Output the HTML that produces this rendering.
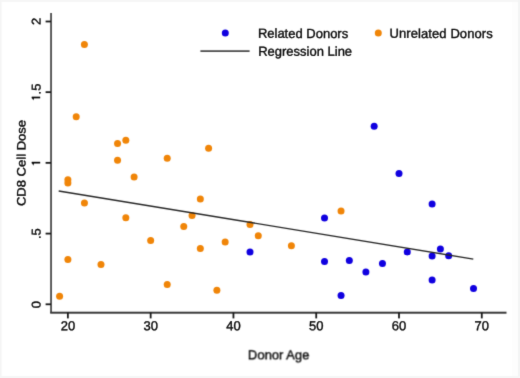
<!DOCTYPE html>
<html><head><meta charset="utf-8"><style>
html,body{margin:0;padding:0;background:#fff;}
body{width:520px;height:378px;overflow:hidden;}
svg{display:block;will-change:transform;}
.t{font-family:"Liberation Sans",sans-serif;font-size:13px;fill:#0d0d0d;stroke:#0d0d0d;stroke-width:0.4px;stroke-linejoin:round;}
</style></head><body>
<svg width="520" height="378" viewBox="0 0 520 378" xmlns="http://www.w3.org/2000/svg">
<title>CD8 Cell Dose vs Donor Age: Related Donors, Unrelated Donors, Regression Line</title>
<defs><filter id="bl" x="0" y="0" width="520" height="378" filterUnits="userSpaceOnUse" color-interpolation-filters="sRGB"><feConvolveMatrix order="3" kernelMatrix="0.0144 0.0912 0.0144 0.0912 0.5776 0.0912 0.0144 0.0912 0.0144" edgeMode="duplicate" preserveAlpha="true"/></filter><filter id="blt" x="0" y="0" width="520" height="378" filterUnits="userSpaceOnUse" color-interpolation-filters="sRGB"><feConvolveMatrix order="3" kernelMatrix="0.0100 0.0800 0.0100 0.0800 0.6400 0.0800 0.0100 0.0800 0.0100" edgeMode="none" preserveAlpha="false"/></filter></defs>
<g filter="url(#bl)">
<rect x="0" y="0" width="520" height="378" fill="#fdfdfd"/>
<rect x="0" y="0" width="520" height="2" fill="#f6f6f6"/>
<rect x="0" y="0" width="1.5" height="378" fill="#f5f5f5"/>
<rect x="518" y="0" width="2" height="378" fill="#f3f4f4"/>
<rect x="0" y="376" width="520" height="2" fill="#f5f6f6"/>
<rect x="2" y="2" width="510" height="374" fill="#ffffff"/>
<rect x="50.15" y="13" width="1.8" height="300" fill="#4c4c4c"/>
<rect x="50.2" y="311.70" width="456.3" height="2.0" fill="#383838"/>
<rect x="66.98" y="312.5" width="1.8" height="5.9" fill="#1a1a1a"/>
<rect x="149.76" y="312.5" width="1.8" height="5.9" fill="#1a1a1a"/>
<rect x="232.54" y="312.5" width="1.8" height="5.9" fill="#1a1a1a"/>
<rect x="315.32" y="312.5" width="1.8" height="5.9" fill="#1a1a1a"/>
<rect x="398.10" y="312.5" width="1.8" height="5.9" fill="#1a1a1a"/>
<rect x="480.88" y="312.5" width="1.8" height="5.9" fill="#1a1a1a"/>
<rect x="45.6" y="303.40" width="5.4" height="1.8" fill="#1a1a1a"/>
<rect x="45.6" y="232.70" width="5.4" height="1.8" fill="#1a1a1a"/>
<rect x="45.6" y="161.95" width="5.4" height="1.8" fill="#1a1a1a"/>
<rect x="45.6" y="91.25" width="5.4" height="1.8" fill="#1a1a1a"/>
<rect x="45.6" y="20.60" width="5.4" height="1.8" fill="#1a1a1a"/>

<circle cx="59.60" cy="296.30" r="3.5" fill="#f08508"/>
<circle cx="67.88" cy="259.40" r="3.5" fill="#f08508"/>
<circle cx="67.88" cy="179.80" r="3.5" fill="#f08508"/>
<circle cx="67.88" cy="182.90" r="3.5" fill="#f08508"/>
<circle cx="76.20" cy="116.70" r="3.5" fill="#f08508"/>
<circle cx="84.40" cy="44.60" r="3.5" fill="#f08508"/>
<circle cx="84.44" cy="203.00" r="3.5" fill="#f08508"/>
<circle cx="100.99" cy="264.60" r="3.5" fill="#f08508"/>
<circle cx="117.55" cy="160.20" r="3.5" fill="#f08508"/>
<circle cx="117.55" cy="143.50" r="3.5" fill="#f08508"/>
<circle cx="125.83" cy="140.30" r="3.5" fill="#f08508"/>
<circle cx="125.83" cy="217.80" r="3.5" fill="#f08508"/>
<circle cx="134.10" cy="177.10" r="3.5" fill="#f08508"/>
<circle cx="150.66" cy="240.50" r="3.5" fill="#f08508"/>
<circle cx="167.22" cy="158.30" r="3.5" fill="#f08508"/>
<circle cx="167.22" cy="284.40" r="3.5" fill="#f08508"/>
<circle cx="183.77" cy="226.50" r="3.5" fill="#f08508"/>
<circle cx="192.05" cy="215.40" r="3.5" fill="#f08508"/>
<circle cx="200.33" cy="199.10" r="3.5" fill="#f08508"/>
<circle cx="200.33" cy="248.40" r="3.5" fill="#f08508"/>
<circle cx="208.61" cy="148.30" r="3.5" fill="#f08508"/>
<circle cx="216.88" cy="290.20" r="3.5" fill="#f08508"/>
<circle cx="225.16" cy="242.00" r="3.5" fill="#f08508"/>
<circle cx="250.00" cy="224.50" r="3.5" fill="#f08508"/>
<circle cx="258.27" cy="235.80" r="3.5" fill="#f08508"/>
<circle cx="291.39" cy="245.80" r="3.5" fill="#f08508"/>
<circle cx="341.05" cy="210.90" r="3.5" fill="#f08508"/>
<circle cx="250.00" cy="252.00" r="3.5" fill="#1000e0"/>
<circle cx="324.50" cy="218.00" r="3.5" fill="#1000e0"/>
<circle cx="324.50" cy="261.60" r="3.5" fill="#1000e0"/>
<circle cx="341.05" cy="295.50" r="3.5" fill="#1000e0"/>
<circle cx="349.33" cy="260.40" r="3.5" fill="#1000e0"/>
<circle cx="365.89" cy="271.90" r="3.5" fill="#1000e0"/>
<circle cx="374.17" cy="126.30" r="3.5" fill="#1000e0"/>
<circle cx="382.44" cy="263.40" r="3.5" fill="#1000e0"/>
<circle cx="399.00" cy="173.50" r="3.5" fill="#1000e0"/>
<circle cx="407.28" cy="251.90" r="3.5" fill="#1000e0"/>
<circle cx="432.11" cy="204.00" r="3.5" fill="#1000e0"/>
<circle cx="432.11" cy="256.00" r="3.5" fill="#1000e0"/>
<circle cx="432.11" cy="280.00" r="3.5" fill="#1000e0"/>
<circle cx="440.39" cy="249.00" r="3.5" fill="#1000e0"/>
<circle cx="448.67" cy="255.80" r="3.5" fill="#1000e0"/>
<circle cx="473.50" cy="288.50" r="3.5" fill="#1000e0"/>
<line x1="58.7" y1="190.95" x2="473.3" y2="259.1" stroke="#262626" stroke-width="1.4"/>
<circle cx="225.3" cy="33.1" r="3.5" fill="#1000e0"/>
<circle cx="378.3" cy="32.9" r="3.5" fill="#f08508"/>
<rect x="200.4" y="50.30" width="49.2" height="1.6" fill="#3a3a3a"/>
</g>
<g filter="url(#blt)">
<text class="t" transform="translate(67.88,330.35) matrix(1.0,0.001,0,1.0,0,0)" text-anchor="middle">20</text>
<text class="t" transform="translate(150.66,330.35) matrix(1.0,0.001,0,1.0,0,0)" text-anchor="middle">30</text>
<text class="t" transform="translate(233.44,330.35) matrix(1.0,0.001,0,1.0,0,0)" text-anchor="middle">40</text>
<text class="t" transform="translate(316.22,330.35) matrix(1.0,0.001,0,1.0,0,0)" text-anchor="middle">50</text>
<text class="t" transform="translate(399.00,330.35) matrix(1.0,0.001,0,1.0,0,0)" text-anchor="middle">60</text>
<text class="t" transform="translate(481.78,330.35) matrix(1.0,0.001,0,1.0,0,0)" text-anchor="middle">70</text>
<text class="t" transform="translate(40.40,304.55) rotate(-90) matrix(1.0,0.001,0,0.97,0,0)" text-anchor="middle">0</text>
<text class="t" transform="translate(40.40,233.60) rotate(-90) matrix(1.0,0.001,0,0.97,0,0)" text-anchor="middle">.5</text>
<path d="M40.2,162.65 H31.7" stroke="#0d0d0d" stroke-width="1.75" fill="none"/><path d="M31.7,162.35 L34.2,162.65 L33.3,165.65 Z" fill="#0d0d0d"/>
<path d="M40.2,97.50 H31.7" stroke="#0d0d0d" stroke-width="1.75" fill="none"/><path d="M31.7,97.20 L34.2,97.50 L33.3,100.50 Z" fill="#0d0d0d"/>
<text class="t" transform="translate(40.40,89.00) rotate(-90) matrix(1.0,0.001,0,0.97,0,0)" text-anchor="middle">.5</text>
<text class="t" transform="translate(40.40,21.40) rotate(-90) matrix(1.0,0.001,0,0.97,0,0)" text-anchor="middle">2</text>
<text class="t" transform="translate(257.90,37.85) matrix(1.0,0.001,0,1.02,0,0)">Related Donors</text>
<text class="t" transform="translate(389.40,37.85) matrix(1.0,0.001,0,1.02,0,0)" textLength="103.39" lengthAdjust="spacing">Unrelated Donors</text>
<text class="t" transform="translate(258.15,55.75) matrix(1.0,0.001,0,1.0,0,0)">Regression Line</text>
<text class="t" transform="translate(278.60,358.90) matrix(1.0,0.001,0,1.04,0,0)" text-anchor="middle">Donor Age</text>
<text class="t" transform="translate(25.50,163.00) rotate(-90) matrix(1.087,0.001,0,1.02,0,0)" text-anchor="middle" style="font-size:12px">CD8 Cell Dose</text>

</g>
</svg>
</body></html>
